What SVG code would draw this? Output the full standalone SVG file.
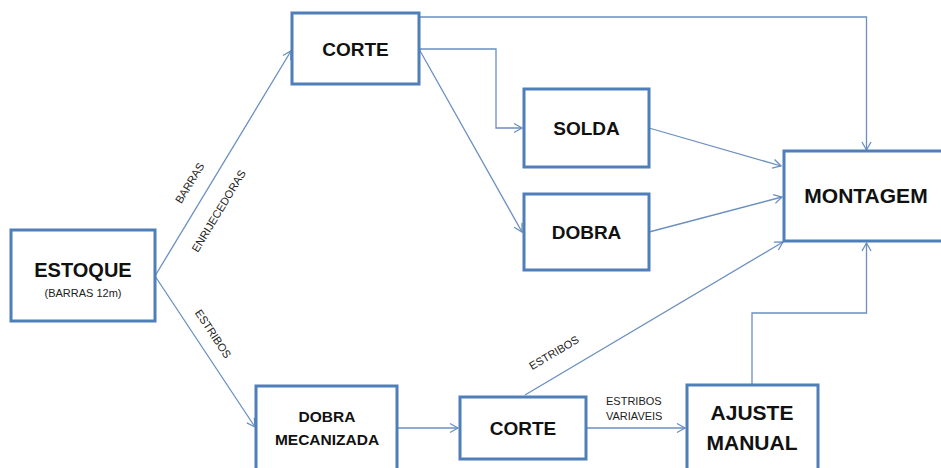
<svg xmlns="http://www.w3.org/2000/svg" width="941" height="468" viewBox="0 0 941 468">
<style>
.box{fill:#fff;stroke:#4f7fb8;stroke-width:3}
.t{font-family:"Liberation Sans",Arial,sans-serif;font-weight:bold;fill:#111;text-anchor:middle}
.s{font-family:"Liberation Sans",Arial,sans-serif;font-size:11px;fill:#222}
.c{fill:none;stroke:#6a8fc0;stroke-width:1.3}
</style>
<defs>
<marker id="ah" markerUnits="userSpaceOnUse" markerWidth="12" markerHeight="12" refX="9" refY="5" orient="auto" viewBox="0 0 12 10">
<path d="M1,0.5 L9,5 L1,9.5" fill="none" stroke="#6a8fc0" stroke-width="1.3"/>
</marker>
</defs>
<rect width="941" height="468" fill="#fff"/>
<g id="connectors">
<path class="c" d="M155,276 L291,51" marker-end="url(#ah)"/>
<path class="c" d="M155,276 L255,427" marker-end="url(#ah)"/>
<path class="c" d="M419,17 L866.5,17 L866.5,150" marker-end="url(#ah)"/>
<path class="c" d="M419,49 L496,49 L496,128 L522,128" marker-end="url(#ah)"/>
<path class="c" d="M419,49 L522,232" marker-end="url(#ah)"/>
<path class="c" d="M649,128 L781,166" marker-end="url(#ah)"/>
<path class="c" d="M649,232 L782,197" marker-end="url(#ah)"/>
<path class="c" d="M525,395 L783,242" marker-end="url(#ah)"/>
<path class="c" d="M397,428 L458,428" marker-end="url(#ah)"/>
<path class="c" d="M586,428 L685,428" marker-end="url(#ah)"/>
<path class="c" d="M752,385 L752,313 L866.5,313 L866.5,243" marker-end="url(#ah)"/>
<text class="s" text-anchor="middle" transform="translate(193,185) rotate(-58.8)">BARRAS</text>
<text class="s" text-anchor="middle" transform="translate(222,213) rotate(-58.8)">ENRIJECEDORAS</text>
<text class="s" text-anchor="middle" transform="translate(210,336) rotate(56.4)">ESTRIBOS</text>
<text class="s" text-anchor="middle" transform="translate(556,356) rotate(-30.6)">ESTRIBOS</text>
<text class="s" x="606" y="405">ESTRIBOS</text>
<text class="s" x="606" y="420">VARIAVEIS</text>
</g>
<g id="estoque">
<rect class="box" x="11" y="230" width="144" height="91"/>
<text class="t" x="83" y="277" font-size="20">ESTOQUE</text>
<text class="s" x="83" y="297" text-anchor="middle" font-size="11.5">(BARRAS 12m)</text>
</g>
<g id="corte1">
<rect class="box" x="292" y="13" width="127" height="71"/>
<text class="t" x="355.5" y="56" font-size="19">CORTE</text>
</g>
<g id="solda">
<rect class="box" x="524" y="89" width="125" height="78"/>
<text class="t" x="586.5" y="135" font-size="19">SOLDA</text>
</g>
<g id="dobra">
<rect class="box" x="524" y="194" width="125" height="76"/>
<text class="t" x="586.5" y="239" font-size="19">DOBRA</text>
</g>
<g id="montagem">
<rect class="box" x="784" y="151" width="170" height="90"/>
<text class="t" x="866" y="203" font-size="21">MONTAGEM</text>
</g>
<g id="dobra-mecanizada">
<rect class="box" x="256" y="386" width="141" height="100"/>
<text class="t" x="327" y="422" font-size="15.5">DOBRA</text>
<text class="t" x="327" y="445" font-size="15.5">MECANIZADA</text>
</g>
<g id="corte2">
<rect class="box" x="460" y="397" width="126" height="62"/>
<text class="t" x="523" y="435" font-size="19">CORTE</text>
</g>
<g id="ajuste-manual">
<rect class="box" x="687" y="385" width="131" height="100"/>
<text class="t" x="752" y="420" font-size="21">AJUSTE</text>
<text class="t" x="752" y="450" font-size="21">MANUAL</text>
</g>
</svg>
